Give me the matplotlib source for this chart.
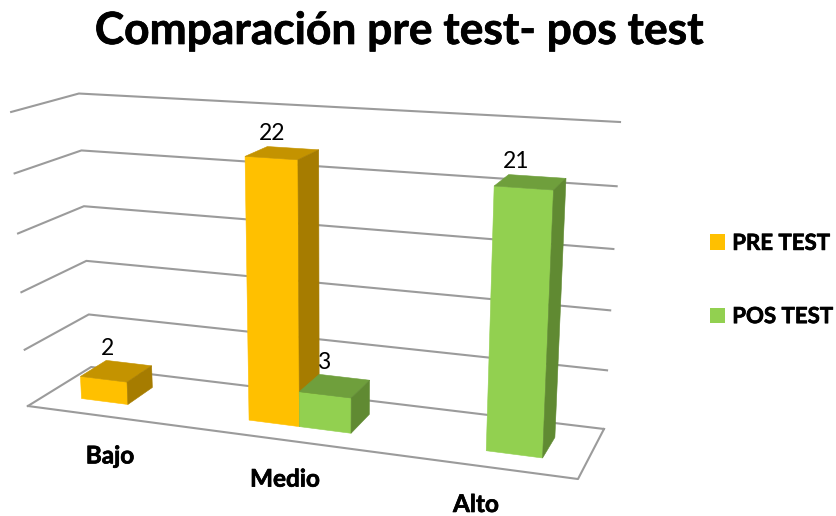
import numpy as np
import matplotlib
matplotlib.use("Agg")
import matplotlib.pyplot as plt
import matplotlib.patheffects as pe
from matplotlib.patches import Patch, Polygon

plt.rcParams['font.family'] = ['Lato', 'DejaVu Sans']

# Data
categories = ['Bajo', 'Medio', 'Alto']
pre_test = [2, 22, 0]
pos_test = [0, 3, 21]
value_ticks = [0, 5, 10, 15, 20, 25]

title = 'Comparación pre test- pos test'
series_names = ['PRE TEST', 'POS TEST']

# face, top, side
PRE_COLORS = ('#FFC000', '#C49300', '#A67C00')
POS_COLORS = ('#92D050', '#6F9F3C', '#608A32')
GRID_COLOR = '#9B9B9B'

BAR_WIDTH = 0.285
DEPTH_FRONT = 0.29
DEPTH_BACK = 0.71

# Chart box corners (category axis, depth, value) and where they sit in the image
box_3d = [(0, 0, 0), (3, 0, 0), (0, 1, 0), (3, 1, 0), (0, 0, 25), (0, 1, 25), (3, 1, 25)]
box_px = [(28, 406), (578, 479), (91, 367), (604, 429), (11, 112), (79, 93.5), (620, 122)]


def fit_camera(points, pixels):
    rows = []
    for (x, d, v), (u, w) in zip(points, pixels):
        rows.append([x, d, v, 1, 0, 0, 0, 0, -u * x, -u * d, -u * v, -u])
        rows.append([0, 0, 0, 0, x, d, v, 1, -w * x, -w * d, -w * v, -w])
    return np.linalg.svd(np.array(rows, dtype=float))[2][-1].reshape(3, 4)


camera = fit_camera(box_3d, box_px)


def project(x, d, v):
    p = camera @ np.array([x, d, v, 1.0])
    return p[0] / p[2], p[1] / p[2]


def draw_bar(ax, x0, x1, value, colors):
    d0, d1 = DEPTH_FRONT, DEPTH_BACK
    front = [project(x0, d0, 0), project(x1, d0, 0), project(x1, d0, value), project(x0, d0, value)]
    top = [project(x0, d0, value), project(x1, d0, value), project(x1, d1, value), project(x0, d1, value)]
    side = [project(x1, d0, 0), project(x1, d1, 0), project(x1, d1, value), project(x1, d0, value)]
    for verts, c in zip((front, top, side), colors):
        ax.add_patch(Polygon(verts, closed=True, facecolor=c, edgecolor=c, linewidth=0.4, zorder=3))
    lx, ly = project((x0 + x1) / 2, d1, value)
    ax.text(lx - 21, ly - 15, str(value), fontsize=16.5, ha='center', va='center', color='black', zorder=5)


fig = plt.figure(figsize=(8.37, 5.16), dpi=100)
ax = fig.add_axes([0, 0, 1, 1])
ax.set_xlim(0, 837)
ax.set_ylim(516, 0)
ax.axis('off')

# Walls
for v in value_ticks:
    pts = [project(0, 0, v), project(0, 1, v), project(3, 1, v)]
    ax.plot(*zip(*pts), color=GRID_COLOR, linewidth=1.5, zorder=1)

# Floor front edge
pts = [project(0, 0, 0), project(3, 0, 0), project(3, 1, 0)]
ax.plot(*zip(*pts), color=GRID_COLOR, linewidth=1.5, zorder=1)

# Bars
for i in range(len(categories)):
    center = i + 0.5
    if pre_test[i] > 0:
        draw_bar(ax, center - BAR_WIDTH, center, pre_test[i], PRE_COLORS)
    if pos_test[i] > 0:
        draw_bar(ax, center, center + BAR_WIDTH, pos_test[i], POS_COLORS)

# Heavier strokes, the bold face here is a bit lighter than the original
heavy = [pe.withStroke(linewidth=0.5, foreground='black')]

# Category labels
for i, name in enumerate(categories):
    lx, ly = project(i + 0.5, 0, 0)
    ax.text(lx, ly + 39, name, fontsize=17.5, fontweight='bold', ha='center', va='center', path_effects=heavy)

ax.text(399, 31, title, fontsize=31.9, fontweight='bold', ha='center', va='center', path_effects=heavy)

handles = [Patch(facecolor=PRE_COLORS[0], label=series_names[0]),
           Patch(facecolor=POS_COLORS[0], label=series_names[1])]
legend = ax.legend(handles=handles, loc='center left', bbox_to_anchor=(710, 280), bbox_transform=ax.transData,
                   frameon=False, prop={'weight': 'bold', 'size': 16}, handlelength=0.68, handleheight=0.68,
                   handletextpad=0.32, labelspacing=2.35, borderpad=0, borderaxespad=0)
for text in legend.get_texts():
    text.set_path_effects(heavy)

plt.savefig('out.png', dpi=100)
